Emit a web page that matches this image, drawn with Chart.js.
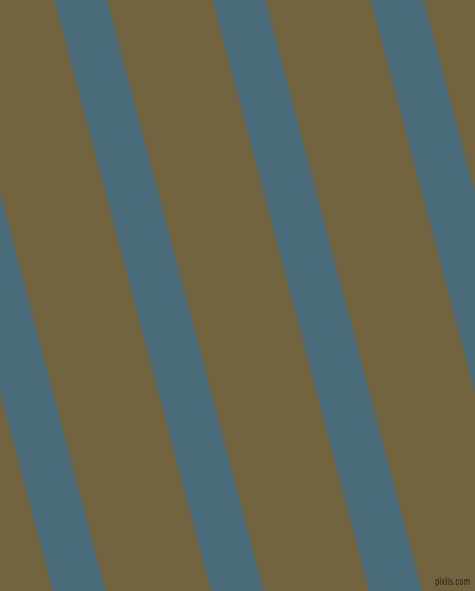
<!DOCTYPE html>
<html>
<head>
<meta charset="utf-8">
<script src="https://cdn.jsdelivr.net/npm/chart.js@4.4.0/dist/chart.umd.min.js"></script>
<style>
  html, body { margin: 0; padding: 0; background: #736440; overflow: hidden; }
  #wrap { position: relative; width: 475px; height: 591px; }
  #c { display: block; }
  #mark { position: absolute; left: 435px; top: 576px; font: bold 10px "Liberation Sans", sans-serif;
          line-height: 12px; color: #2b2819; white-space: nowrap; transform-origin: 0 0;
          text-shadow: 0 0 1px rgba(170,155,110,0.8); }
</style>
</head>
<body>
<div id="wrap">
  <canvas id="c" width="475" height="591"></canvas>
  <div id="mark">pixlis.com</div>
</div>
<script>
// Stripe centre positions (px) at the top edge and at the bottom edge
const stripeTopX    = [-77.2, 81.0, 239.2, 397.4, 555.6];
const stripeBottomX = [79.4, 237.6, 395.8, 554.0, 712.2];
const edgeY = [0, 591];
const stripeColor = '#4a6b7a';
const groundColor = '#736440';
const stripeWidth = 51;

const datasets = stripeTopX.map((tx, i) => ({
  data: [{x: tx, y: edgeY[0]}, {x: stripeBottomX[i], y: edgeY[1]}],
  borderColor: stripeColor,
  borderWidth: stripeWidth,
  borderCapStyle: 'square',
  pointRadius: 0,
  showLine: true,
  fill: false,
  tension: 0
}));

const bgPlugin = {
  id: 'bg',
  beforeDraw(chart) {
    const ctx = chart.ctx;
    ctx.save();
    ctx.fillStyle = groundColor;
    ctx.fillRect(0, 0, chart.width, chart.height);
    ctx.restore();
  }
};

new Chart(document.getElementById('c'), {
  type: 'scatter',
  data: { datasets },
  options: {
    responsive: false,
    animation: false,
    devicePixelRatio: 1,
    layout: { padding: 0 },
    plugins: { legend: { display: false }, tooltip: { enabled: false } },
    scales: {
      x: { type: 'linear', min: 0, max: 475, display: false },
      y: { type: 'linear', min: 0, max: 591, reverse: true, display: false }
    }
  },
  plugins: [bgPlugin]
});

// fit the watermark to its width in the reference
const mark = document.getElementById('mark');
const w = mark.getBoundingClientRect().width;
mark.style.transform = 'scaleX(' + (35 / w) + ')';
</script>
</body>
</html>
